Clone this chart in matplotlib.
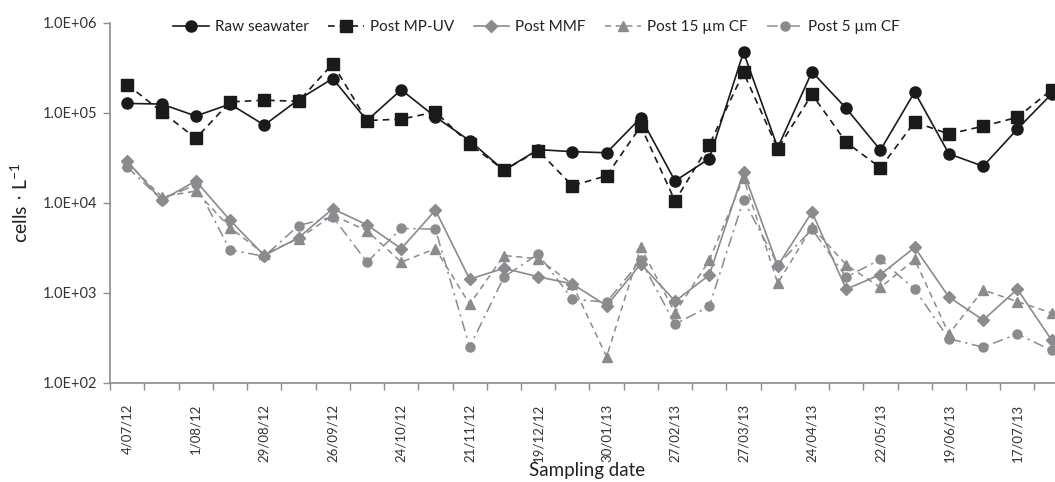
import numpy as np
import matplotlib
matplotlib.use("Agg")
import matplotlib.pyplot as plt
from matplotlib.ticker import FixedLocator, FuncFormatter, NullFormatter

plt.rcParams['font.family'] = ['Lato', 'DejaVu Sans']

# labelled sampling dates (every 2nd of 28 samples)
date_labels = ["4/07/12", "1/08/12", "29/08/12", "26/09/12", "24/10/12", "21/11/12",
               "19/12/12", "30/01/13", "27/02/13", "27/03/13", "24/04/13", "22/05/13",
               "19/06/13", "17/07/13"]

raw_seawater = [1.27e5, 1.25e5, 9.2e4, 1.25e5, 7.3e4, 1.40e5, 2.40e5, 8.2e4, 1.80e5, 9.0e4,
                4.9e4, 2.3e4, 3.9e4, 3.7e4, 3.6e4, 8.8e4, 1.75e4, 3.1e4, 4.7e5, 4.1e4,
                2.85e5, 1.12e5, 3.85e4, 1.70e5, 3.5e4, 2.55e4, 6.6e4, 1.62e5]
post_mpuv = [2.05e5, 1.03e5, 5.2e4, 1.32e5, 1.38e5, 1.34e5, 3.50e5, 8.2e4, 8.5e4, 1.02e5,
             4.5e4, 2.3e4, 3.8e4, 1.55e4, 2.0e4, 7.1e4, 1.05e4, 4.4e4, 2.8e5, 4.0e4,
             1.60e5, 4.7e4, 2.45e4, 7.9e4, 5.8e4, 7.1e4, 8.9e4, 1.80e5]
post_mmf = [2.9e4, 1.07e4, 1.75e4, 6.4e3, 2.6e3, 4.1e3, 8.6e3, 5.7e3, 3.1e3, 8.3e3,
            1.42e3, 1.88e3, 1.51e3, 1.26e3, 7.2e2, 2.1e3, 8.1e2, 1.58e3, 2.2e4, 2.0e3,
            7.9e3, 1.1e3, 1.6e3, 3.2e3, 9.0e2, 5.0e2, 1.1e3, 3.0e2]
post_15um = [2.8e4, 1.17e4, 1.35e4, 5.3e3, 2.7e3, 4.0e3, 7.3e3, 4.9e3, 2.2e3, 3.1e3,
             7.5e2, 2.6e3, 2.4e3, 1.25e3, 1.96e2, 3.2e3, 6.0e2, 2.3e3, 1.9e4, 1.28e3,
             5.4e3, 2.05e3, 1.15e3, 2.35e3, 3.5e2, 1.08e3, 8.0e2, 6.0e2]
post_5um = [2.5e4, 1.08e4, 1.6e4, 3.0e3, 2.55e3, 5.6e3, 7.0e3, 2.2e3, 5.2e3, 5.1e3,
            2.5e2, 1.5e3, 2.7e3, 8.5e2, 7.9e2, 2.3e3, 4.5e2, 7.1e2, 1.08e4, 2.05e3,
            5.1e3, 1.5e3, 2.35e3, 1.1e3, 3.1e2, 2.5e2, 3.5e2, 2.3e2]

black = '#1a1a1a'
grey = '#8a8b8e'
axis_grey = '#8c8c8c'

x = np.arange(len(raw_seawater))

fig = plt.figure(figsize=(10.55, 4.82), dpi=100)
ax = fig.add_axes([0.1045, 0.2054, 0.9085, 0.7475])

ax.plot(x, raw_seawater, color=black, lw=1.2, marker='o', ms=8, label='Raw seawater', zorder=6)
ax.plot(x, post_mpuv, color=black, lw=1.2, ls=(0, (4, 3)), marker='s', ms=8.5,
        label='Post MP-UV', zorder=5)
ax.plot(x, post_mmf, color=grey, lw=1.2, marker='D', ms=6.5, label='Post MMF', zorder=4)
ax.plot(x, post_15um, color=grey, lw=1.1, ls=(0, (4, 3)), marker='^', ms=7.5,
        label='Post 15 µm CF', zorder=3)
ax.plot(x, post_5um, color=grey, lw=1.1, ls=(0, (7, 3, 1.5, 3)), marker='o', ms=6.5,
        label='Post 5 µm CF', zorder=2)

ax.set_yscale('log')
ax.set_ylim(1e2, 1e6)
ax.set_xlim(-0.5, len(x) - 0.5)

ax.yaxis.set_major_locator(FixedLocator([1e2, 1e3, 1e4, 1e5, 1e6]))
ax.yaxis.set_major_formatter(FuncFormatter(lambda v, p: f"{v:.1E}"))
ax.yaxis.set_minor_locator(FixedLocator([]))
ax.tick_params(axis='y', which='major', length=5, width=1, color=axis_grey,
               labelsize=10.5, labelcolor='#333333', pad=4)

# ticks between categories, labels on every second category
ax.set_xticks(np.arange(-0.5, len(x), 1.0), minor=True)
ax.set_xticks(x[::2])
ax.set_xticklabels(date_labels, rotation=90, fontsize=9.5, color='#333333')
ax.tick_params(axis='x', which='major', length=0, pad=15)
ax.tick_params(axis='x', which='minor', length=5, width=1, color=axis_grey)
ax.xaxis.set_minor_formatter(NullFormatter())

for s in ['top', 'right']:
    ax.spines[s].set_visible(False)
for s in ['left', 'bottom']:
    ax.spines[s].set_color(axis_grey)
    ax.spines[s].set_linewidth(1.2)

ax.set_xlabel('Sampling date', fontsize=13.5, color='#222222')
ax.xaxis.set_label_coords(0.497, -0.218)
ax.set_ylabel(r'cells $\cdot$ L$^{\mathregular{-1}}$', fontsize=14, color='#222222')
ax.yaxis.set_label_coords(-0.083, 0.5)

leg = ax.legend(loc='center', bbox_to_anchor=(0.445, 0.988), ncol=5, frameon=False,
                fontsize=11, handlelength=2.3, columnspacing=1.3, handletextpad=0.4)
for t in leg.get_texts():
    t.set_color('#222222')

fig.savefig('out.png', dpi=100)
